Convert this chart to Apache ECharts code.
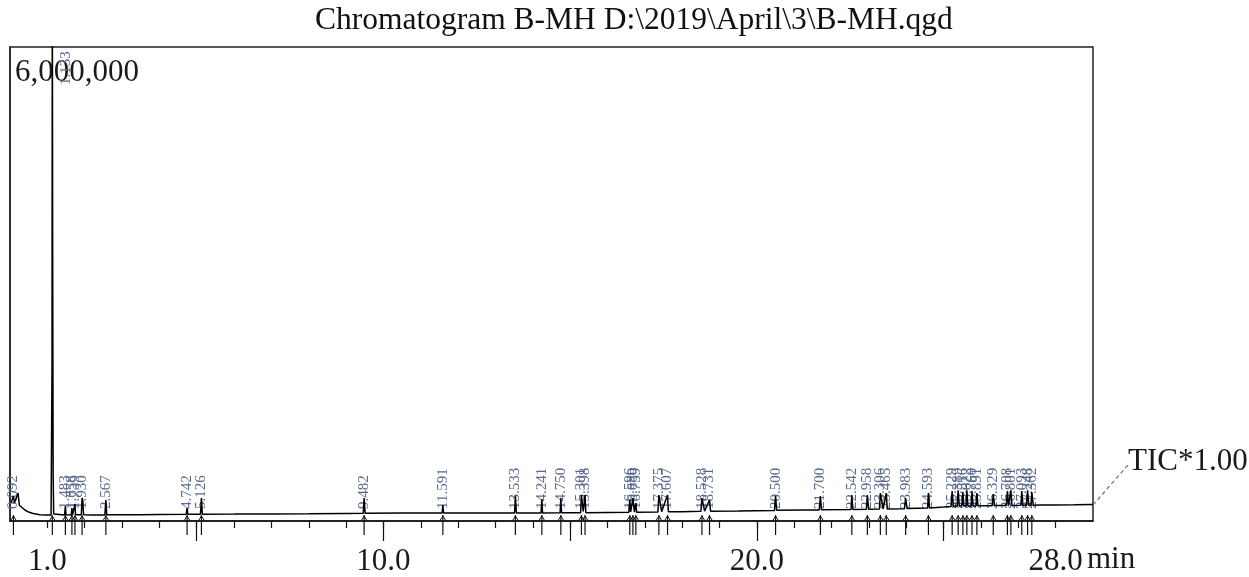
<!DOCTYPE html>
<html>
<head>
<meta charset="utf-8">
<script src="https://cdn.jsdelivr.net/npm/echarts@6/dist/echarts.min.js"></script>
<style>
html,body{margin:0;padding:0;background:#fff;}
#chart{width:1249px;height:577px;}
</style>
</head>
<body>
<div id="chart"></div>
<script>
const titleText = 'Chromatogram B-MH D:\\2019\\April\\3\\B-MH.qgd';
const xLabelValues = [1, 10, 20, 28];
const minorTickValues = [1,2,3,4,5,6,7,8,9,10,11,12,13,14,15,16,17,18,19,20,21,22,23,24,25,26,27,28];
const majorTickValues = [5, 10, 15, 20, 25];
const yLabelValues = [6000000];
const xUnit = 'min';
const traceName = 'TIC*1.00';

const peakTimes = [0.092, 1.133, 1.483, 1.658, 1.739, 1.930, 2.567, 4.742, 5.126, 9.482, 11.591, 13.533, 14.241, 14.750, 15.301, 15.398, 16.596, 16.680, 16.759, 17.375, 17.607, 18.528, 18.731, 20.500, 21.700, 22.542, 22.958, 23.306, 23.465, 23.983, 24.593, 25.229, 25.389, 25.516, 25.622, 25.760, 25.891, 26.329, 26.708, 26.801, 27.093, 27.248, 27.362];
const peakLabels = ['0.092', '1.133', '1.483', '1.658', '1.739', '1.930', '2.567', '4.742', '5.126', '9.482', '11.591', '13.533', '14.241', '14.750', '15.301', '15.398', '16.596', '16.680', '16.759', '17.375', '17.607', '18.528', '18.731', '20.500', '21.700', '22.542', '22.958', '23.306', '23.465', '23.983', '24.593', '25.229', '25.389', '25.516', '25.622', '25.760', '25.891', '26.329', '26.708', '26.801', '27.093', '27.248', '27.362'];
const peakHeights = [315000, 7000000, 189000, 164000, 214000, 290000, 265000, 164000, 290000, 290000, 202000, 315000, 277000, 290000, 328000, 328000, 265000, 290000, 227000, 328000, 328000, 290000, 265000, 315000, 315000, 328000, 328000, 353000, 353000, 290000, 353000, 378000, 390000, 365000, 390000, 378000, 353000, 340000, 378000, 390000, 378000, 390000, 365000];

const trace = [
  [0.03, 230000], [0.06, 250000], [0.092, 315000], [0.12, 230000], [0.17, 215000], [0.215, 353000],
  [0.25, 200000], [0.30, 176000], [0.40, 139000], [0.50, 113000], [0.62, 95000], [0.80, 80000],
  [0.95, 76000], [1.10, 76000], [1.125, 2000000], [1.133, 7000000], [1.142, 3500000], [1.155, 600000],
  [1.17, 90000], [1.20, 76000], [1.46, 76000], [1.483, 189000], [1.50, 78000], [1.64, 76000],
  [1.658, 164000], [1.675, 76000], [1.72, 78000], [1.739, 214000], [1.755, 78000], [1.91, 80000],
  [1.930, 290000], [1.95, 260000], [1.97, 80000], [2.2, 76000], [2.54, 76000], [2.567, 265000],
  [2.59, 78000], [3.0, 80000], [3.5, 80000], [4.0, 82000], [4.72, 84000], [4.742, 164000],
  [4.76, 85000], [5.10, 86000], [5.126, 290000], [5.15, 87000], [6.0, 88000], [7.0, 90000],
  [8.0, 92000], [9.0, 96000], [9.46, 98000], [9.482, 290000], [9.51, 99000], [10.5, 100000],
  [11.57, 101000], [11.591, 202000], [11.61, 101000], [12.5, 101000], [13.51, 101000], [13.533, 315000],
  [13.56, 102000], [14.22, 102000], [14.241, 277000], [14.26, 102000], [14.73, 103000], [14.750, 290000],
  [14.77, 103000], [15.28, 104000], [15.301, 328000], [15.35, 120000], [15.398, 328000], [15.42, 105000],
  [16.0, 108000], [16.57, 110000], [16.596, 265000], [16.62, 115000], [16.680, 290000], [16.72, 112000],
  [16.759, 227000], [16.78, 112000], [17.35, 114000], [17.375, 328000], [17.45, 118000], [17.607, 328000],
  [17.63, 116000], [18.0, 118000], [18.50, 122000], [18.528, 290000], [18.60, 124000], [18.731, 265000],
  [18.76, 124000], [19.5, 128000], [20.47, 134000], [20.500, 315000], [20.53, 135000], [21.2, 138000],
  [21.67, 140000], [21.700, 315000], [21.73, 141000], [22.52, 146000], [22.542, 328000], [22.57, 147000],
  [22.93, 149000], [22.958, 328000], [22.99, 150000], [23.28, 151000], [23.306, 353000], [23.38, 152000],
  [23.465, 353000], [23.49, 153000], [23.95, 156000], [23.983, 290000], [24.02, 158000], [24.57, 164000],
  [24.593, 353000], [24.62, 165000], [25.0, 176000], [25.20, 185000], [25.229, 378000], [25.26, 187000],
  [25.36, 188000], [25.389, 390000], [25.42, 189000], [25.49, 189000], [25.516, 365000], [25.54, 189000],
  [25.60, 190000], [25.622, 390000], [25.65, 190000], [25.74, 191000], [25.760, 378000], [25.79, 191000],
  [25.87, 192000], [25.891, 353000], [25.92, 192000], [26.30, 194000], [26.329, 340000], [26.36, 195000],
  [26.68, 196000], [26.708, 378000], [26.74, 196000], [26.78, 197000], [26.801, 390000], [26.83, 197000],
  [27.07, 198000], [27.093, 378000], [27.12, 198000], [27.22, 199000], [27.248, 390000], [27.28, 199000],
  [27.34, 200000], [27.362, 365000], [27.40, 200000], [27.6, 201000], [28.0, 202000], [28.5, 205000],
  [29.0, 210000]
];

const serif = '"Liberation Serif", "DejaVu Serif", serif';
const chart = echarts.init(document.getElementById('chart'), null, {renderer: 'canvas'});

const yMax = 6000000;

const option = {
  animation: false,
  backgroundColor: '#ffffff',
  title: {
    text: titleText,
    left: 315,
    top: 5,
    padding: 0,
    textStyle: {fontFamily: serif, fontSize: 31.5, fontWeight: 'normal', color: '#111'}
  },
  grid: {
    left: 10, top: 47, width: 1083, height: 476,
    show: true, borderColor: '#222', borderWidth: 1.5, backgroundColor: 'transparent'
  },
  xAxis: [
    {
      type: 'value', min: 0, max: 29, position: 'bottom',
      axisLine: {show: true, lineStyle: {color: '#111', width: 1.5}},
      axisTick: {show: true, length: 7, customValues: minorTickValues, lineStyle: {color: '#111', width: 1.2}},
      axisLabel: {
        show: true, customValues: xLabelValues, margin: 25,
        formatter: v => v.toFixed(1),
        fontFamily: serif, fontSize: 31, color: '#1a1a1a'
      },
      splitLine: {show: false}
    },
    {
      type: 'value', min: 0, max: 29, position: 'bottom',
      axisLine: {show: false},
      axisTick: {show: true, length: 20, customValues: majorTickValues, lineStyle: {color: '#111', width: 1.2}},
      axisLabel: {show: false},
      splitLine: {show: false}
    }
  ],
  yAxis: {
    type: 'value', min: 0, max: yMax,
    axisLine: {show: true, lineStyle: {color: '#222', width: 1.5}},
    axisTick: {show: false},
    splitLine: {show: false},
    axisLabel: {
      show: true, inside: true, customValues: yLabelValues, margin: 5,
      verticalAlign: 'top', padding: [10, 0, 0, 0],
      formatter: v => v.toLocaleString('en-US'),
      fontFamily: serif, fontSize: 31, color: '#1a1a1a'
    }
  },
  series: [
    {
      type: 'line', name: traceName, data: trace, xAxisIndex: 0, yAxisIndex: 0,
      showSymbol: false, symbol: 'none', clip: true,
      lineStyle: {color: '#000', width: 1.5}
    },
    {
      type: 'custom', xAxisIndex: 0, yAxisIndex: 0, clip: false,
      data: peakTimes.map((t, i) => [t, peakHeights[i]]),
      renderItem: function (params, api) {
        const i = params.dataIndex;
        const base = api.coord([api.value(0), 0]);
        const x = base[0], y = base[1];
        const over = api.value(1) > yMax;
        const topY = api.coord([api.value(0), yMax])[1];
        const label = peakLabels[i];
        const labelY = over ? topY + 38 : y - 12;
        const labelX = over ? x + 14 : x;
        return {
          type: 'group',
          children: [
            {type: 'line', shape: {x1: x, y1: y - 6, x2: x, y2: y + 14}, style: {stroke: '#111', lineWidth: 1.2}},
            {type: 'polyline', shape: {points: [[x - 2.5, y - 1], [x, y - 5], [x + 2.5, y - 1]]}, style: {stroke: '#111', lineWidth: 1, fill: null}},
            {
              type: 'text', x: labelX, y: labelY, rotation: Math.PI / 2,
              style: {text: label, x: 0, y: 0, align: 'left', verticalAlign: 'middle',
                fontFamily: serif, fontSize: 15, fill: '#5a6a8e'}
            }
          ]
        };
      }
    }
  ],
  graphic: [
    {type: 'text', left: 1087, top: 544, style: {text: xUnit, fontFamily: serif, fontSize: 31, fill: '#1a1a1a'}},
    {type: 'text', left: 1128, top: 446, style: {text: traceName, fontFamily: serif, fontSize: 31, fill: '#1a1a1a'}},
    {type: 'line', shape: {x1: 1093, y1: 505, x2: 1128, y2: 465}, style: {stroke: '#777', lineWidth: 1.3, lineDash: [4, 3]}}
  ]
};
chart.setOption(option);
</script>
</body>
</html>
